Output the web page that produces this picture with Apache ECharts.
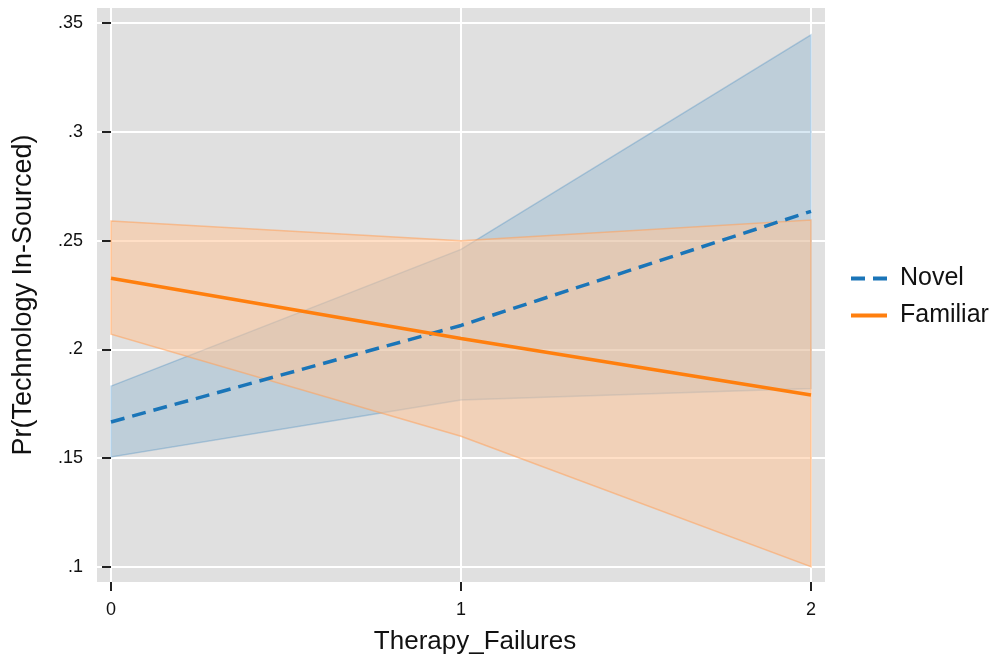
<!DOCTYPE html>
<html>
<head>
<meta charset="utf-8">
<script src="https://cdn.jsdelivr.net/npm/echarts@6/dist/echarts.min.js"></script>
<style>
  html, body { margin: 0; padding: 0; background: #fff; }
  #chart { width: 1000px; height: 660px; }
</style>
</head>
<body>
<div id="chart"></div>
<script>
// values
var failures = [0, 1, 2];
var xTicks = [0, 1, 2];
var yTicks = [0.1, 0.15, 0.2, 0.25, 0.3, 0.35];

var novelMean = [0.1666, 0.2110, 0.2635];
var novelLow  = [0.1505, 0.1767, 0.1820];
var novelHigh = [0.1831, 0.2460, 0.3447];

var familiarMean = [0.2327, 0.2050, 0.1790];
var familiarLow  = [0.2070, 0.1600, 0.1000];
var familiarHigh = [0.2590, 0.2500, 0.2595];

var blue = '#1a75b8';
var orange = '#ff7f0e';

function pairs(xs, ys) {
    return xs.map(function (x, i) { return [x, ys[i]]; });
}
function tickText(v) {
    var s = (Math.round(v * 100) / 100).toString();
    return s.replace(/^0\./, '.');
}

var chart = echarts.init(document.getElementById('chart'));

// confidence band as one polygon: upper edge left->right, lower edge back
function band(name, lo, hi, fill, stroke) {
    var rows = failures.map(function (x, i) { return [x, lo[i], hi[i]]; });
    return {
        name: name + ' ci',
        type: 'custom',
        data: rows,
        silent: true,
        z: 1,
        renderItem: function (params, api) {
            if (params.dataIndex !== 0) return;
            var pts = [];
            rows.forEach(function (r) { pts.push(api.coord([r[0], r[2]])); });
            rows.slice().reverse().forEach(function (r) { pts.push(api.coord([r[0], r[1]])); });
            return {
                type: 'polygon',
                shape: { points: pts },
                style: { fill: fill, stroke: stroke, lineWidth: 1.5 }
            };
        }
    };
}

var series = [
    band('Novel', novelLow, novelHigh, 'rgba(26,117,184,0.17)', 'rgba(26,117,184,0.25)'),
    band('Familiar', familiarLow, familiarHigh, 'rgba(255,196,152,0.55)', 'rgba(255,160,90,0.55)'),
    {
        name: 'Novel',
        type: 'line',
        data: pairs(failures, novelMean),
        symbol: 'none',
        lineStyle: { color: blue, width: 3.5, type: [14, 8] },
        itemStyle: { color: blue },
        z: 5
    },
    {
        name: 'Familiar',
        type: 'line',
        data: pairs(failures, familiarMean),
        symbol: 'none',
        lineStyle: { color: orange, width: 3.5 },
        itemStyle: { color: orange },
        z: 5
    }
];

chart.setOption({
    animation: false,
    textStyle: { fontFamily: 'Liberation Sans, Arial, sans-serif' },
    grid: {
        left: 97, right: 175, top: 8, bottom: 77,
        show: true, backgroundColor: '#e0e0e0', borderWidth: 0
    },
    legend: {
        data: [
            { name: 'Novel', icon: 'path://M0,0h14v4h-14z M22,0h14v4h-14z' },
            { name: 'Familiar', icon: 'rect' }
        ],
        orient: 'vertical',
        left: 846,
        top: 260,
        itemWidth: 36,
        itemHeight: 4,
        itemGap: 10,
        textStyle: { fontSize: 25, color: '#111', lineHeight: 27, padding: [0, 0, 0, 8] }
    },
    xAxis: {
        type: 'value',
        min: -0.04,
        max: 2.04,
        name: 'Therapy_Failures',
        nameLocation: 'middle',
        nameGap: 47,
        nameTextStyle: { fontSize: 26, color: '#111', padding: [0, 0, 0, 28] },
        axisLine: { show: false },
        axisTick: { show: true, customValues: xTicks, length: 9, lineStyle: { color: '#222', width: 2 } },
        axisLabel: { customValues: xTicks, fontSize: 18, color: '#111', margin: 19 },
        splitLine: { show: true, customValues: xTicks, lineStyle: { color: '#fff', width: 2 } }
    },
    yAxis: {
        type: 'value',
        min: 0.093,
        max: 0.357,
        name: 'Pr(Technology In-Sourced)',
        nameLocation: 'middle',
        nameGap: 60,
        nameTextStyle: { fontSize: 27, color: '#111' },
        axisLine: { show: false },
        axisTick: { show: true, customValues: yTicks, length: 9, lineStyle: { color: '#222', width: 2 } },
        axisLabel: { customValues: yTicks, fontSize: 18, color: '#111', margin: 14, formatter: tickText },
        splitLine: { show: true, customValues: yTicks, lineStyle: { color: '#fff', width: 2 } }
    },
    series: series
});
</script>
</body>
</html>
